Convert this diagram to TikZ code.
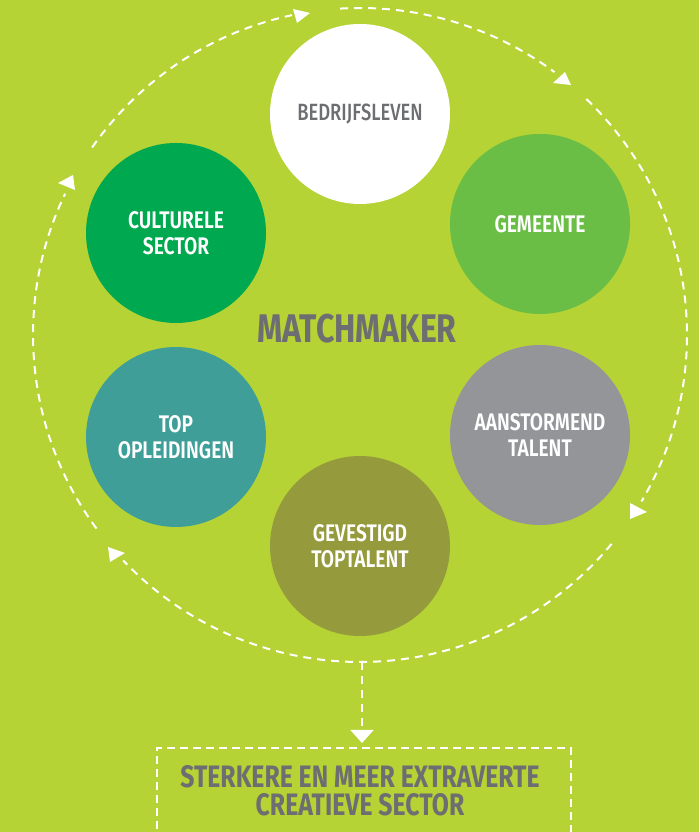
\documentclass[tikz,border=0pt]{standalone}
\usepackage{fontspec}
\usetikzlibrary{arrows.meta}
\setmainfont{Fira Sans}[FakeStretch=0.8]
\IfFontExistsTF{Fira Sans SemiBold}
 {\newfontfamily\semifont{Fira Sans SemiBold}[FakeStretch=0.8]}
 {\newcommand\semifont{\bfseries}}
\IfFontExistsTF{Fira Sans Medium}
 {\newfontfamily\medfont{Fira Sans Medium}[FakeStretch=0.78]}
 {\newcommand\medfont{\normalfont}}
\definecolor{bg}{HTML}{B5D334}
\definecolor{txtgray}{HTML}{6D6E71}
\definecolor{cgem}{HTML}{6ABD45}
\definecolor{ccul}{HTML}{00A84F}
\definecolor{ctop}{HTML}{3F9F98}
\definecolor{caan}{HTML}{939598}
\definecolor{cgev}{HTML}{959A3D}
\begin{document}
\begin{tikzpicture}[x=1pt,y=1pt,
  hub/.style={circle, minimum size=180pt, inner sep=0pt, align=center,
    font=\semifont\fontsize{24}{26}\selectfont, text=white},
  ring/.style={white, line width=2pt, dash pattern=on 8pt off 6pt},
  boxline/.style={white, line width=2pt, dash pattern=on 8pt off 5pt},
  tipshape/.style={fill=white}]
\fill[bg] (0,0) rectangle (699,832);
\useasboundingbox (0,0) rectangle (699,832);
% dashed ring
\coordinate (O) at (360,497);
\draw[ring] ([shift={(145:327)}]O) arc[start angle=145, end angle=102, radius=327];
\draw[ring] ([shift={(93.5:327)}]O) arc[start angle=93.5, end angle=53.5, radius=327];
\draw[ring] ([shift={(46.2:327)}]O) arc[start angle=46.2, end angle=-30.6, radius=327];
\draw[ring] ([shift={(-39.7:327)}]O) arc[start angle=-39.7, end angle=-136.4, radius=327];
\draw[ring] ([shift={(216.3:327)}]O) arc[start angle=216.3, end angle=154.4, radius=327];
% arrowheads on the ring
\fill[tipshape] (293,823) -- (297,809) -- (310,819) -- cycle;
\fill[tipshape] (553,749) -- (565,760) -- (571,747) -- cycle;
\fill[tipshape] (630,329) -- (630,313) -- (647,320) -- cycle;
\fill[tipshape] (108,285) -- (110,270) -- (125,279) -- cycle;
\fill[tipshape] (58,649) -- (73,657) -- (75,642) -- cycle;
% circles
\node[hub, fill=white, text=txtgray, font=\medfont\fontsize{23.5}{26}\selectfont] (bed) at (360,718) {BEDRIJFSLEVEN};
\node[hub, fill=cgem] (gem) at (540,608) {GEMEENTE};
\node[hub, fill=ccul] (cul) at (176,599) {CULTURELE\\SECTOR};
\node[hub, fill=ctop] (top) at (176,395) {TOP\\OPLEIDINGEN};
\node[hub, fill=caan] (aan) at (540,397) {AANSTORMEND\\TALENT};
\node[hub, fill=cgev] (gev) at (360,286) {GEVESTIGD\\TOPTALENT};
% centre label
\node[text=txtgray, font=\bfseries\fontsize{40}{44}\selectfont] (mm) at (357,503) {MATCHMAKER};
% result box
\draw[boxline] (157,-10) -- (157,84) -- (571,84) -- (571,-10);
\node[text=txtgray, align=center, font=\bfseries\fontsize{31}{28}\selectfont] (goal) at (360,41)
  {STERKERE EN MEER EXTRAVERTE\\CREATIEVE SECTOR};
\coordinate (ringS) at (362,170);
\coordinate (boxN) at (362,84);
\draw[ring, -{Triangle[width=23pt,length=13pt,fill=white]}, shorten >=5pt] (ringS) -- (boxN);
\end{tikzpicture}
\end{document}
